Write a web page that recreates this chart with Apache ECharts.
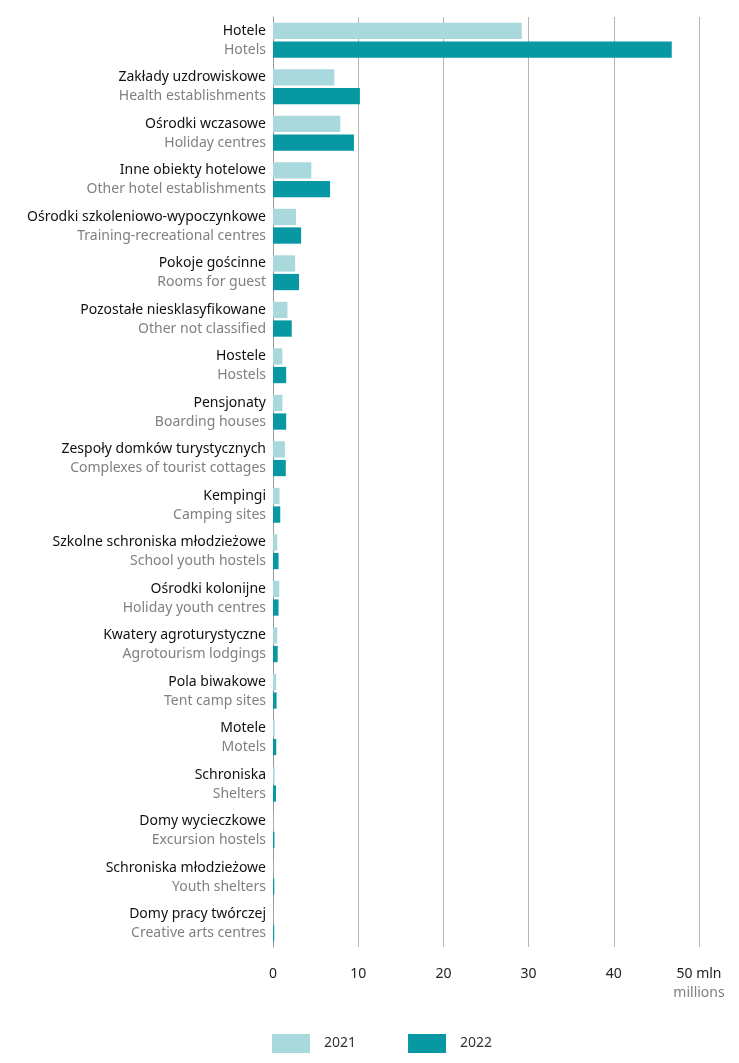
<!DOCTYPE html>
<html>
<head>
<meta charset="utf-8">
<script src="https://cdn.jsdelivr.net/npm/echarts@6/dist/echarts.min.js"></script>
<style>
html,body{margin:0;padding:0;background:#fff;}
#c{width:739px;height:1063px;}
</style>
</head>
<body>
<div id="c"></div>
<script>
const categoriesPL = ["Hotele","Zakłady uzdrowiskowe","Ośrodki wczasowe","Inne obiekty hotelowe","Ośrodki szkoleniowo-wypoczynkowe","Pokoje gościnne","Pozostałe niesklasyfikowane","Hostele","Pensjonaty","Zespoły domków turystycznych","Kempingi","Szkolne schroniska młodzieżowe","Ośrodki kolonijne","Kwatery agroturystyczne","Pola biwakowe","Motele","Schroniska","Domy wycieczkowe","Schroniska młodzieżowe","Domy pracy twórczej"];
const categoriesEN = ["Hotels","Health establishments","Holiday centres","Other hotel establishments","Training-recreational centres","Rooms for guest","Other not classified","Hostels","Boarding houses","Complexes of tourist cottages","Camping sites","School youth hostels","Holiday youth centres","Agrotourism lodgings","Tent camp sites","Motels","Shelters","Excursion hostels","Youth shelters","Creative arts centres"];
const values2021 = [29.2,7.2,7.9,4.5,2.7,2.6,1.7,1.1,1.1,1.4,0.77,0.5,0.74,0.5,0.38,0.2,0.2,0.05,0.03,0.02];
const values2022 = [46.8,10.2,9.5,6.7,3.3,3.05,2.2,1.55,1.55,1.5,0.85,0.65,0.65,0.55,0.42,0.38,0.35,0.17,0.15,0.14];
const seriesNames = ["2021","2022"];
const xTicks = [0,10,20,30,40,50];

const FONT = "Noto Sans";
const chart = echarts.init(document.getElementById('c'), null, {renderer:'canvas'});
const cats = categoriesPL.map((p,i)=>p+'|'+categoriesEN[i]);
chart.setOption({
  animation:false,
  textStyle:{fontFamily:FONT},
  grid:{left:273,right:40,top:17,bottom:116,containLabel:false},
  legend:{
    data:seriesNames, left:267, top:1029, icon:'rect',
    itemWidth:38, itemHeight:19, itemGap:52,
    textStyle:{fontFamily:FONT,fontSize:14,color:'#333',padding:[0,0,0,9]}
  },
  xAxis:{
    type:'value', min:xTicks[0], max:xTicks[xTicks.length-1], interval:10,
    axisLine:{show:false}, axisTick:{show:false},
    splitLine:{show:true,lineStyle:{color:'#b5b5b5',width:1}},
    axisLabel:{
      margin:18, fontFamily:FONT, fontSize:14, color:'#222',
      formatter:function(v){ return v===50 ? '{a|50 mln}\n{b|millions}' : '{a|'+v+'}'; },
      rich:{a:{fontFamily:FONT,fontSize:14,color:'#222',lineHeight:19},b:{fontFamily:FONT,fontSize:14,color:'#808080',lineHeight:19}}
    }
  },
  yAxis:{
    type:'category', data:cats, inverse:true, z:0,
    axisLine:{show:true,lineStyle:{color:'#999',width:1}}, axisTick:{show:false},
    axisLabel:{
      margin:7, align:'right',
      formatter:function(v){ const s=v.split('|'); return '{a|'+s[0]+'}\n{b|'+s[1]+'}'; },
      rich:{a:{fontFamily:FONT,fontSize:14,color:'#111',lineHeight:19,align:'right'},b:{fontFamily:FONT,fontSize:14,color:'#808080',lineHeight:19,align:'right'}}
    }
  },
  series:[
    {name:seriesNames[0],type:'bar',z:5,data:values2021,itemStyle:{color:'#a9d9dc'},barGap:'14%',barCategoryGap:'25%'},
    {name:seriesNames[1],type:'bar',z:5,data:values2022,itemStyle:{color:'#0798a3'},barGap:'14%',barCategoryGap:'25%'}
  ]
});
</script>
</body>
</html>
